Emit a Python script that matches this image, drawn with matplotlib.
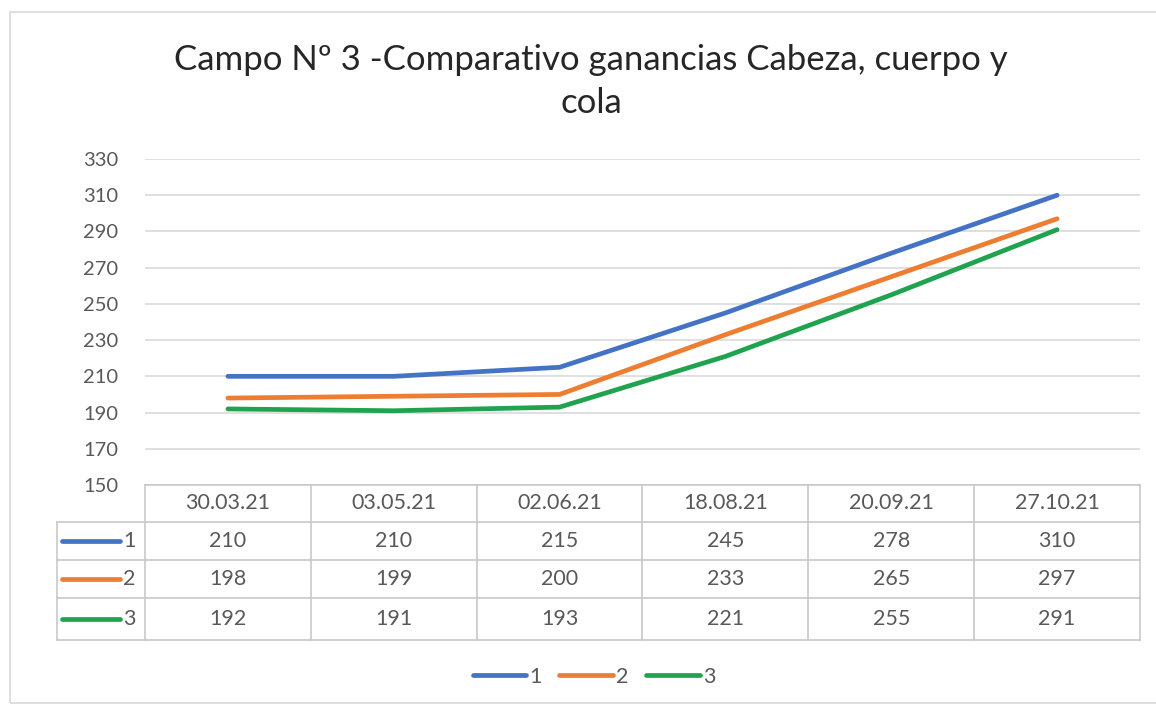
import matplotlib
matplotlib.use("Agg")
import matplotlib.pyplot as plt
import matplotlib.transforms as mtransforms
from matplotlib.lines import Line2D
from matplotlib.patches import Rectangle

fechas = ["30.03.21", "03.05.21", "02.06.21", "18.08.21", "20.09.21", "27.10.21"]
serie_1 = [210, 210, 215, 245, 278, 310]
serie_2 = [198, 199, 200, 233, 265, 297]
serie_3 = [192, 191, 193, 221, 255, 291]
nombres = ["1", "2", "3"]
colores = ["#4472C4", "#ED7D31", "#1FA34E"]

W, H = 1156, 708
plt.rcParams["font.family"] = ["Lato", "DejaVu Sans"]
TXT = "#595959"
GRIS = "#D9D9D9"


def fx(px):
    return px / W


def fy(py):
    return 1 - py / H


fig = plt.figure(figsize=(W / 100, H / 100), dpi=100)

# marco del grafico
fig.patches.append(Rectangle((fx(10), fy(703)), fx(1160) - fx(10), fy(12) - fy(703),
                             transform=fig.transFigure, fill=False,
                             edgecolor=GRIS, linewidth=1.2))

ax = fig.add_axes([fx(145), fy(485), fx(1140) - fx(145), fy(159) - fy(485)])
x = list(range(len(fechas)))
for vals, c, n in zip([serie_1, serie_2, serie_3], colores, nombres):
    ax.plot(x, vals, color=c, linewidth=3.4, solid_capstyle="round", label=n, zorder=3)

ax.set_xlim(-0.5, len(fechas) - 0.5)
ax.set_ylim(150, 330)
ax.set_yticks(range(150, 331, 20))
ax.set_xticks([])
ax.tick_params(axis="y", length=0, pad=19, labelsize=14.5, labelcolor=TXT)
ax.grid(axis="y", color=GRIS, linewidth=1.2)
for s in ax.spines.values():
    s.set_visible(False)

fig.text(fx(591), fy(60), "Campo Nº 3 -Comparativo ganancias Cabeza, cuerpo y",
         ha="center", va="center", fontsize=25, color="#262626")
fig.text(fx(591), fy(103), "cola", ha="center", va="center", fontsize=25, color="#262626")

# tabla de datos
tr = mtransforms.blended_transform_factory(ax.transData, fig.transFigure)
borde = "#C8C8C8"
filas_y = [485, 522, 560, 598, 640]
for i, py in enumerate(filas_y):
    x0 = 145 if i == 0 else 57
    fig.add_artist(Line2D([fx(x0), fx(1140)], [fy(py), fy(py)], color=borde, linewidth=1.2))
fig.add_artist(Line2D([fx(57), fx(57)], [fy(522), fy(640)], color=borde, linewidth=1.2))
for k in range(len(fechas) + 1):
    fig.add_artist(Line2D([k - 0.5, k - 0.5], [fy(485), fy(640)], transform=tr,
                          color=borde, linewidth=1.2))

for i, f in enumerate(fechas):
    fig.text(i, fy(503), f, transform=tr, ha="center", va="center", fontsize=15.5, color=TXT)

for r, (vals, c, n) in enumerate(zip([serie_1, serie_2, serie_3], colores, nombres)):
    yc = (filas_y[r + 1] + filas_y[r + 2]) / 2
    fig.add_artist(Line2D([fx(62), fx(120)], [fy(yc), fy(yc)], color=c, linewidth=3.4,
                          solid_capstyle="round"))
    fig.text(fx(123), fy(yc), n, ha="left", va="center", fontsize=15.5, color=TXT)
    for i, v in enumerate(vals):
        fig.text(i, fy(yc), str(v), transform=tr, ha="center", va="center",
                 fontsize=15.5, color=TXT)

fig.legend(loc="center", bbox_to_anchor=(fx(594), fy(677)), ncol=3, frameon=False,
           fontsize=15.5, labelcolor=TXT, handlelength=2.5, handletextpad=0.15,
           columnspacing=0.8)

fig.savefig("out.png", dpi=100)
